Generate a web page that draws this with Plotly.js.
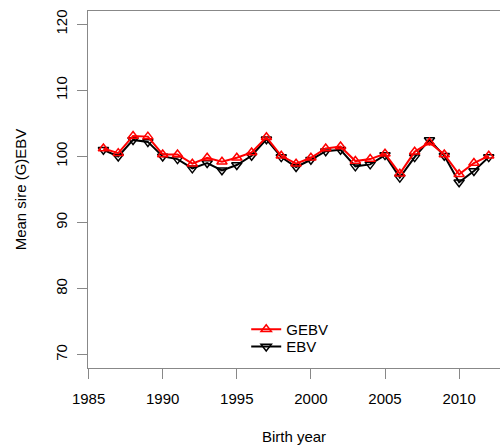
<!DOCTYPE html>
<html>
<head>
<meta charset="utf-8">
<script src="https://cdn.plot.ly/plotly-3.0.1.min.js"></script>
<style>html,body{margin:0;padding:0;background:#fff}#chart{width:500px;height:448px}</style>
</head>
<body>
<div id="chart"></div>
<script>
var years = [1986,1987,1988,1989,1990,1991,1992,1993,1994,1995,1996,1997,1998,1999,2000,2001,2002,2003,2004,2005,2006,2007,2008,2009,2010,2011,2012];
var gebv = [101.2,100.5,103.1,103.0,100.3,100.3,98.9,99.8,99.2,99.8,100.6,102.9,100.1,98.9,99.8,101.2,101.5,99.3,99.6,100.4,97.4,100.7,102.1,100.3,97.3,99.0,100.1];
var ebv  = [101.0,100.0,102.5,102.2,100.0,99.6,98.2,99.0,97.9,98.7,100.1,102.6,99.9,98.4,99.5,100.8,101.0,98.5,98.8,100.2,96.8,99.9,102.5,100.1,96.1,97.8,99.9];
var seriesNames = ['GEBV','EBV'];
var xTicks = [1985,1990,1995,2000,2005,2010];
var yTicks = [70,80,90,100,110,120];

var font = 'Liberation Sans, Arial, sans-serif';
var traces = [
  {x: years, y: ebv, name: seriesNames[1], type: 'scatter', mode: 'lines+markers', legend: 'legend2',
   line: {color: 'black', width: 2},
   marker: {symbol: 'triangle-down-open', size: 9, color: 'black', line: {width: 1.5, color: 'black'}}},
  {x: years, y: gebv, name: seriesNames[0], type: 'scatter', mode: 'lines+markers', legend: 'legend',
   line: {color: 'red', width: 2},
   marker: {symbol: 'triangle-up-open', size: 9, color: 'red', line: {width: 1.5, color: 'red'}}}
];
var legBase = {xanchor: 'left', yanchor: 'top', bgcolor: 'rgba(0,0,0,0)', font: {size: 15}};
var layout = {
  width: 500, height: 448,
  margin: {l: 88, r: 0, t: 11, b: 80},
  paper_bgcolor: '#fff', plot_bgcolor: '#fff',
  font: {family: font, size: 15, color: '#000'},
  showlegend: true,
  legend: Object.assign({x: 0.384, y: 0.154}, legBase),
  legend2: Object.assign({x: 0.384, y: 0.106}, legBase),
  xaxis: {range: [1984.96, 2012.76], tickvals: xTicks, ticktext: xTicks.map(String),
    showgrid: false, zeroline: false, showline: true, mirror: true, linecolor: '#888', linewidth: 1,
    ticks: 'outside', ticklen: 10, tickcolor: '#888', ticklabelstandoff: 7,
    title: {text: 'Birth year', font: {size: 15}, standoff: 25}},
  yaxis: {range: [68, 122], tickvals: yTicks, ticktext: yTicks.map(String), tickangle: -90,
    showgrid: false, zeroline: false, showline: true, mirror: false, linecolor: '#888', linewidth: 1,
    ticks: 'outside', ticklen: 10, tickcolor: '#888', ticklabelstandoff: 4,
    title: {text: 'Mean sire (G)EBV', font: {size: 15}, standoff: 22}}
};
Plotly.newPlot('chart', traces, layout, {displayModeBar: false, staticPlot: true});
</script>
</body>
</html>
